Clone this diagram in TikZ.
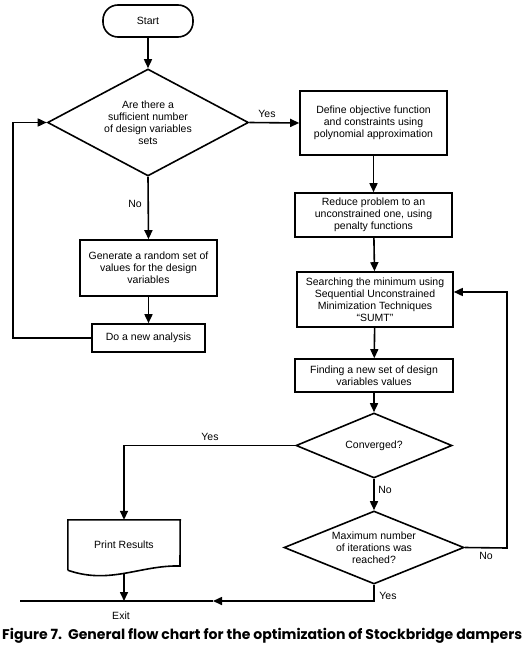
\documentclass[tikz,border=0pt]{standalone}
\usepackage{fontspec}
\usepackage{graphicx}
\setmainfont{Liberation Sans}
\newfontfamily\capfont{Poppins}
\usetikzlibrary{shapes.geometric,arrows.meta}
\begin{document}
\begin{tikzpicture}[x=1pt,y=-1pt,
  every node/.style={font=\fontsize{10.5}{12}\selectfont},
  ln/.style={line width=1.6pt},
  arr/.style={ln,-{Triangle[length=9pt,width=8pt]}},
  boxx/.style={draw,ln,rectangle,align=center,inner sep=2pt},
  dec/.style={draw,ln,diamond,align=center,inner sep=0pt},
  lbl/.style={inner sep=0pt}]
\useasboundingbox (0,0) rectangle (523,647);
\fill[white] (0,0) rectangle (523,647);
% nodes
\node[draw,ln,rounded corners=15pt,minimum width=90pt,minimum height=32pt] (start) at (148,21) {Start};
\node[dec,shape aspect=1.88,minimum width=201pt,minimum height=107pt] (d1) at (148,122.5) {Are there a\\sufficient number\\of design variables\\sets};
\node[boxx,minimum width=147pt,minimum height=64pt] (b1) at (373.5,123) {Define objective function\\and constraints using\\polynomial approximation};
\node[boxx,minimum width=157pt,minimum height=44pt] (b2) at (373.5,215) {Reduce problem to an\\unconstrained one, using\\penalty functions};
\node[boxx,minimum width=156pt,minimum height=55pt] (b3) at (375,299.5) {Searching the minimum using\\Sequential Unconstrained\\Minimization Techniques\\``SUMT''};
\node[boxx,minimum width=158pt,minimum height=33pt] (b4) at (374,375.5) {Finding a new set of design\\variables values};
\node[dec,shape aspect=2.4,minimum width=156pt,minimum height=65pt] (d2) at (374,445.5) {Converged?};
\node[dec,shape aspect=2.47,minimum width=180pt,minimum height=73pt] (d3) at (374,547.5) {Maximum number\\of iterations was\\reached?};
\node[boxx,minimum width=137pt,minimum height=56pt] (gen) at (148.5,268) {Generate a random set of\\values for the design\\variables};
\node[boxx,minimum width=113pt,minimum height=28pt] (do) at (148.5,338) {Do a new analysis};
\node[minimum width=112pt,minimum height=50pt,inner sep=0pt] (pr) at (124,545) {Print Results};
\draw[ln] (pr.south west) -- (pr.north west) -- (pr.north east) -- (180,566)
  .. controls (140,565) and (110,585) .. (pr.south west);
\coordinate (prb) at (124,573);
% connectors
\draw[arr] (start) -- (d1);
\draw[arr] (d1.east) -- (b1.west);
\node[lbl] (ly1) at (267,114) {Yes};
\draw[arr] (b1) -- (b2);
\draw[arr] (b2) -- (b3);
\draw[arr] (b3) -- (b4);
\draw[arr] (b4) -- (d2);
\draw[arr] (d2) -- (d3);
\node[lbl] (ln2) at (385,490) {No};
\draw[arr] (d2.west) -| (pr.north);
\node[lbl] (ly2) at (210,437) {Yes};
\coordinate (fbx) at (507,548);
\coordinate (fbt) at (507,292);
\draw[arr] (d3.east) -- (fbx) -- (fbt) -- (b3.east |- fbt);
\node[lbl] (ln3) at (486,556) {No};
\coordinate (bl) at (374,601);
\coordinate (mid) at (213,601);
\coordinate (exitl) at (20,601);
\draw[arr] (d3.south) -- (bl) -- (mid);
\draw[ln] (mid) -- (exitl);
\node[lbl] (ly3) at (388,596) {Yes};
\draw[arr] (prb) -- (prb |- bl);
\node[lbl] (lex) at (121,616) {Exit};
\draw[arr] (d1.south) -- (gen.north);
\node[lbl] (ln1) at (135,204) {No};
\draw[arr] (gen) -- (do);
\coordinate (lp1) at (13,338);
\coordinate (lp2) at (13,122.5);
\draw[arr] (do.west) -- (lp1) -- (lp2) -- (d1.west);
% caption
\node[inner sep=0pt,anchor=base west] (cap) at (2,639) {\resizebox{520pt}{!}{\capfont\bfseries\fontsize{15}{18}\selectfont Figure 7.\ \ General flow chart for the optimization of Stockbridge dampers}};
\end{tikzpicture}
\end{document}
